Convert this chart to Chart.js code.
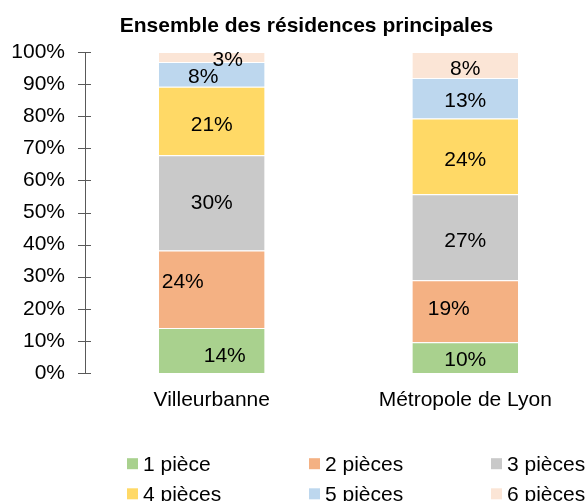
<!DOCTYPE html>
<html><head><meta charset="utf-8">
<script src="https://cdn.jsdelivr.net/npm/chart.js@4/dist/chart.umd.min.js"></script>
<style>html,body{margin:0;padding:0;overflow:hidden;background:#fff}#wrap{width:592px;height:501px}</style>
</head><body><div id="wrap"><canvas id="c" width="592" height="501"></canvas></div>
<script>
const categories = ['Villeurbanne', 'Métropole de Lyon'];
const seriesNames = ['1 pièce', '2 pièces', '3 pièces', '4 pièces', '5 pièces', '6 pièces'];
const piece1 = [14.0, 9.6];
const piece2 = [24.2, 19.3];
const piece3 = [29.6, 26.8];
const piece4 = [21.4, 23.6];
const piece5 = [7.7, 12.6];
const piece6 = [3.1, 8.1];
const yTickValues = [0, 10, 20, 30, 40, 50, 60, 70, 80, 90, 100];
const titleText = 'Ensemble des résidences principales';

const seriesValues = [piece1, piece2, piece3, piece4, piece5, piece6];
const colors = ['#A9D18E', '#F4B183', '#C9C9C9', '#FFD966', '#BDD7EE', '#FBE5D6'];
// label nudges (style only): [series][category] = [dx, dy]
const labelOffsets = [
  [[13, 4], [0, 1]],
  [[-29, -8.5], [-16.5, -3.7]],
  [[0, -1], [0, 2.3]],
  [[0, 2], [0, 2.6]],
  [[-8.5, 1.4], [0, 1.2]],
  [[16, 2], [0, 2.6]]
];
const FONT = "'Liberation Sans', Arial, sans-serif";
const CAP_HALF = 7.5;

const titlePlugin = {
  id: 'offsetTitle',
  afterDraw(chart) {
    const ctx = chart.ctx;
    ctx.save();
    ctx.font = 'bold 21px ' + FONT;
    ctx.fillStyle = '#000';
    ctx.textAlign = 'center';
    ctx.textBaseline = 'alphabetic';
    ctx.fillText(titleText, 306.5, 24 + CAP_HALF);
    ctx.restore();
  }
};

const labelPlugin = {
  id: 'segLabels',
  afterDatasetsDraw(chart) {
    const ctx = chart.ctx;
    ctx.save();
    ctx.font = '21px ' + FONT;
    ctx.fillStyle = '#000';
    ctx.textAlign = 'center';
    ctx.textBaseline = 'alphabetic';
    chart.data.datasets.forEach((ds, i) => {
      const meta = chart.getDatasetMeta(i);
      meta.data.forEach((bar, j) => {
        const off = labelOffsets[i][j];
        const y = (bar.y + bar.base) / 2;
        ctx.fillText(Math.round(ds.data[j]) + '%', bar.x + off[0], y + off[1] + CAP_HALF);
      });
    });
    ctx.restore();
  }
};

const axisTicksPlugin = {
  id: 'axisTicks',
  afterDraw(chart) {
    const s = chart.scales.y, ctx = chart.ctx;
    ctx.save();
    ctx.strokeStyle = '#595959';
    ctx.lineWidth = 1;
    s.ticks.forEach(t => {
      const y = Math.round(s.getPixelForValue(t.value)) + 0.5;
      ctx.beginPath();
      ctx.moveTo(s.right - 7, y);
      ctx.lineTo(s.right + 6, y);
      ctx.stroke();
    });
    ctx.restore();
  }
};

const legendPlugin = {
  id: 'gridLegend',
  afterDraw(chart) {
    const ctx = chart.ctx;
    const colX = [127, 309, 491];
    const rowY = [463.7, 493.8];
    ctx.save();
    ctx.font = '21px ' + FONT;
    ctx.textBaseline = 'alphabetic';
    ctx.textAlign = 'left';
    chart.data.datasets.forEach((ds, i) => {
      const x = colX[i % 3], y = rowY[Math.floor(i / 3)];
      ctx.fillStyle = ds.backgroundColor;
      ctx.fillRect(x, y - 5.5, 11, 11);
      ctx.fillStyle = '#000';
      ctx.fillText(ds.label, x + 16, y + CAP_HALF);
    });
    ctx.restore();
  }
};

new Chart(document.getElementById('c'), {
  type: 'bar',
  data: {
    labels: categories,
    datasets: seriesNames.map((n, i) => ({
      label: n,
      data: seriesValues[i],
      backgroundColor: colors[i],
      borderColor: '#ffffff',
      borderWidth: {top: 1, left: 0, right: 0, bottom: 0},
      borderSkipped: false,
      barPercentage: 0.417,
      categoryPercentage: 1
    }))
  },
  options: {
    responsive: false,
    animation: false,
    layout: {padding: {left: 0, right: 0, top: 52, bottom: 0}},
    plugins: {
      legend: {display: false},
      tooltip: {enabled: false},
      title: {display: false}
    },
    scales: {
      x: {
        stacked: true,
        grid: {display: false},
        border: {display: false},
        ticks: {color: '#000', font: {family: FONT, size: 21}, padding: 7},
        afterFit(s) { s.height = 128; }
      },
      y: {
        stacked: true,
        min: 0, max: 100,
        afterBuildTicks(s) { s.ticks = yTickValues.map(v => ({value: v})); },
        grid: {display: false},
        border: {display: true, color: '#595959', width: 1},
        ticks: {color: '#000', font: {family: FONT, size: 21}, padding: 12, callback: v => v + '%'},
        afterFit(s) { s.width = 85; }
      }
    }
  },
  plugins: [labelPlugin, axisTicksPlugin, legendPlugin, titlePlugin]
});
</script></body></html>
